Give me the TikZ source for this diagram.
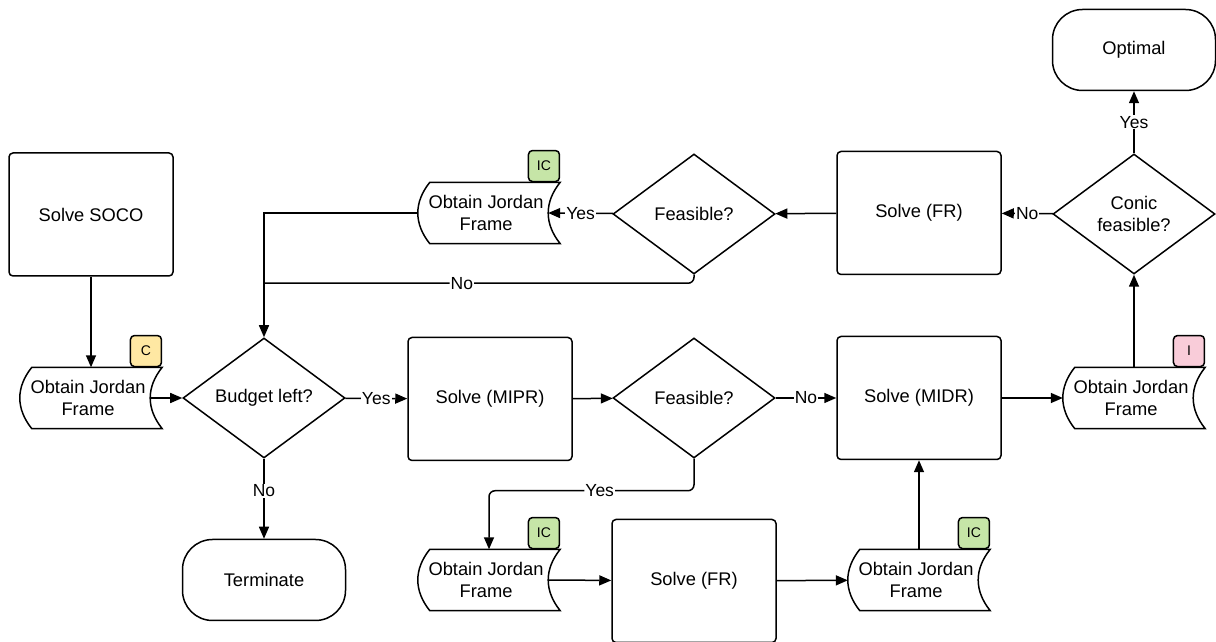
\documentclass[tikz,border=0pt]{standalone}
\usepackage{fontspec}
\setmainfont{Liberation Sans}
\usetikzlibrary{shapes.geometric,arrows.meta}
\definecolor{tagC}{HTML}{FFE8A3}
\definecolor{tagI}{HTML}{F9CCD9}
\definecolor{tagIC}{HTML}{C6E5A7}
\tikzset{
	flow/.style={line width=1.5pt},
	arr/.style={flow,-{Triangle[length=12pt,width=10pt]}},
	box/.style={flow,draw,rounded corners=4pt,minimum width=164pt,minimum height=123pt,align=center},
	decision/.style={flow,draw,diamond,aspect=1.36,minimum width=162pt,minimum height=120pt,inner sep=0pt,align=center},
	stadium/.style={flow,draw,rounded corners=30pt,minimum width=163pt,minimum height=81pt},
	jframe/.style={minimum width=142pt,minimum height=61pt,inner sep=0pt},
	tag/.style={flow,draw,rounded corners=4pt,minimum size=31pt,inner sep=0pt,anchor=south east,
		font=\fontsize{14}{16}\selectfont},
	lbl/.style={fill=white,inner sep=1pt,font=\fontsize{17.5}{20}\selectfont}
}
\newcommand{\jordanframe}[5]{%
	\node[jframe] (#1) at (#2,#3) {};
	\node[align=center,inner sep=0pt] (#1-text) at ([xshift=-3pt]#1.center) {Obtain Jordan\\Frame};
	\draw[flow] ([xshift=12pt]#1.north west) -- (#1.north east)
		.. controls +(-16pt,-20pt) and +(-16pt,20pt) .. (#1.south east)
		-- ([xshift=12pt]#1.south west)
		.. controls +(-16pt,20pt) and +(-16pt,-20pt) .. ([xshift=12pt]#1.north west) -- cycle;
	\node[tag,fill=#5] (#1-tag) at (#1.north east) {#4};
	\coordinate (#1-out) at ([xshift=-12pt]#1.east);
}
\begin{document}
\begin{tikzpicture}[x=1pt,y=1pt,font=\fontsize{18.3}{22}\selectfont]
	\fill[white] (0,0) rectangle (1216,642);
	\useasboundingbox (0,0) rectangle (1216,642);
	\node[box] (soco) at (91,427.5) {Solve SOCO};
	\node[decision] (budget) at (264,244) {Budget left?};
	\node[box] (mipr) at (490,243) {Solve (MIPR)};
	\node[decision] (feas1) at (694,244) {Feasible?};
	\node[box] (midr) at (919,244) {Solve (MIDR)};
	\node[decision] (conic) at (1134,428) {Conic\\feasible?};
	\node[stadium] (opt) at (1134,592) {Optimal};
	\node[box] (fr1) at (919,429) {Solve (FR)};
	\node[decision] (feas2) at (694,428) {Feasible?};
	\node[stadium] (term) at (264,62) {Terminate};
	\node[box] (fr2) at (694,61) {Solve (FR)};
	\foreach \n/\x/\y/\t/\c in {j0/91/244/C/tagC, j1/489/62/IC/tagIC, j2/919/62/IC/tagIC,
		j3/1134/244/I/tagI, j4/489/429/IC/tagIC}{
		\jordanframe{\n}{\x}{\y}{\t}{\c}
	}
	\path (budget.north) ++(0,54pt) coordinate (join);
	\draw[arr] (soco) -- (j0);
	\draw[arr] (j0-out) -- (budget);
	\draw[arr] (budget) -- node[lbl]{Yes} (mipr);
	\draw[arr] (budget) -- node[lbl,pos=0.4]{No} (term);
	\draw[arr] (mipr) -- (feas1);
	\draw[arr] (feas1) -- node[lbl]{No} (midr);
	\draw[arr,rounded corners=6pt] (feas1.south) -- ++(0,-32pt) -| node[lbl,pos=0.23]{Yes} (j1.north);
	\draw[arr] (j1-out) -- (fr2);
	\draw[arr] (fr2) -- (j2);
	\draw[arr] (j2) -- (midr);
	\draw[arr] (midr) -- (j3);
	\draw[arr] (j3) -- (conic);
	\draw[arr] (conic) -- node[lbl]{Yes} (opt);
	\draw[arr] (conic) -- node[lbl]{No} (fr1);
	\draw[arr] (fr1) -- (feas2);
	\draw[arr] (feas2) -- node[lbl]{Yes} (j4-out);
	\draw[arr] (j4) -| (budget);
	\draw[flow,rounded corners=6pt] (feas2.south) |- node[lbl,pos=0.77]{No} (join);
\end{tikzpicture}
\end{document}
